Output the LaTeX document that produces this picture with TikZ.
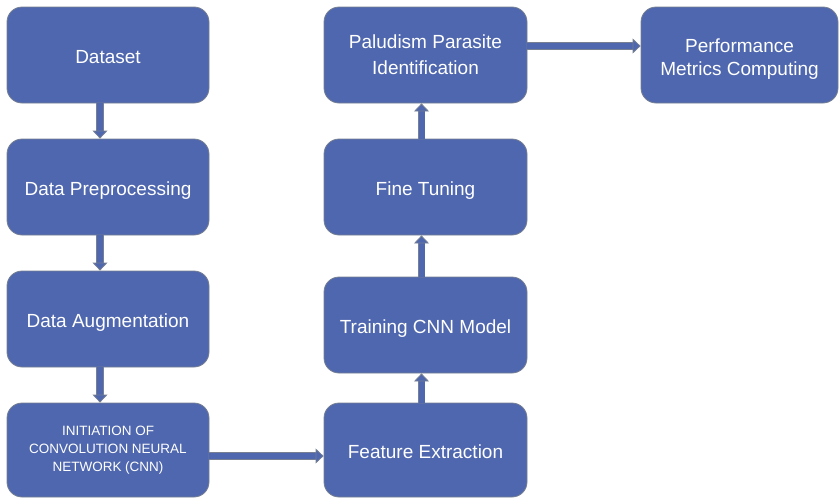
\documentclass[tikz,border=0pt]{standalone}
\usepackage{fontspec}
\setmainfont{Liberation Sans}
\usetikzlibrary{arrows.meta, positioning, calc}

\definecolor{boxblue}{RGB}{79,103,174}
\definecolor{edgegray}{RGB}{118,128,146}

\tikzset{
  stage/.style={rectangle, rounded corners=15pt, fill=boxblue, draw=edgegray, line width=0.8pt,
    minimum width=202pt, minimum height=96pt, text=white, align=center, font=\fontsize{19}{26}\selectfont},
  oneline/.style={text height=16.5pt, text depth=0pt},
  flow/.style={draw=edgegray, line width=0.8pt, double=boxblue, double distance=6pt,
    -{Triangle[length=8pt, width=15pt, fill=boxblue]}},
}

\begin{document}
\begin{tikzpicture}[x=1pt, y=-1pt]
  \useasboundingbox (0,0) rectangle (840,498);

  % left column
  \node[stage, oneline] (data) at (108,55) {Dataset};
  \node[stage, oneline] (prep) at (108,187) {Data Preprocessing};
  \node[stage, oneline] (aug) at (108,319) {Data Augmentation};
  \node[stage, minimum height=94pt, font=\fontsize{13.5}{18}\selectfont] (init) at (108,450) {INITIATION OF\\CONVOLUTION NEURAL\\NETWORK (CNN)};

  % middle column
  \node[stage, oneline, minimum width=203pt, minimum height=94pt] (feat) at (425.5,450) {Feature Extraction};
  \node[stage, oneline, minimum width=203pt] (train) at (425.5,325) {Training CNN Model};
  \node[stage, oneline, minimum width=203pt] (tune) at (425.5,187) {Fine Tuning};
  \node[stage, minimum width=203pt] (ident) at (425.5,55) {Paludism Parasite\\Identification};

  % result (strut pushes the two lines a bit lower)
  \node[stage, minimum width=197pt, font=\fontsize{19}{23}\selectfont] (perf) at (739.5,55) {\rule{0pt}{22pt}Performance\\Metrics Computing};

  % connectors
  \draw[flow] ($(data.south)+(-8,0)$) -- ($(prep.north)+(-8,0)$);
  \draw[flow] ($(prep.south)+(-8,0)$) -- ($(aug.north)+(-8,0)$);
  \draw[flow] ($(aug.south)+(-8,0)$) -- ($(init.north)+(-8,0)$);
  \draw[flow] ($(init.east)+(0,6)$) -- ($(feat.west)+(0,6)$);
  \draw[flow] ($(feat.north)+(-4,0)$) -- ($(train.south)+(-4,0)$);
  \draw[flow] ($(train.north)+(-4,0)$) -- ($(tune.south)+(-4,0)$);
  \draw[flow] ($(tune.north)+(-4,0)$) -- ($(ident.south)+(-4,0)$);
  \draw[flow] ($(ident.east)+(0,-9)$) -- ($(perf.west)+(0,-9)$);

\end{tikzpicture}
\end{document}
